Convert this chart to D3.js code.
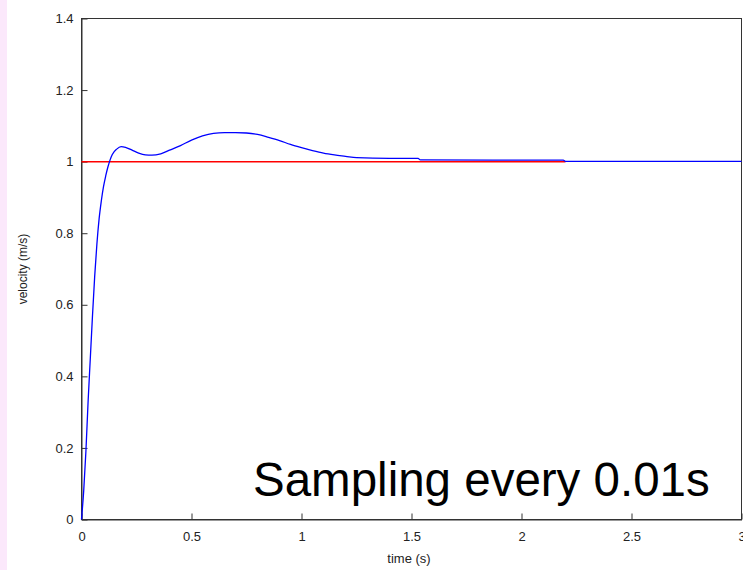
<!DOCTYPE html>
<html>
<head>
<meta charset="utf-8">
<script src="https://cdn.jsdelivr.net/npm/d3@7"></script>
<style>
  body { margin: 0; background: #fff; }
  svg { display: block; font-family: "Liberation Sans", Arial, sans-serif; }
</style>
</head>
<body>
<div id="chart"></div>
<script>
// step response
const times = [0, 0.01, 0.02, 0.03, 0.04, 0.05, 0.06, 0.07, 0.08, 0.09, 0.10, 0.11, 0.12, 0.13, 0.14,
  0.16, 0.18, 0.20, 0.23, 0.26, 0.29, 0.32, 0.36, 0.40, 0.45, 0.50, 0.55, 0.60, 0.65, 0.70, 0.75,
  0.80, 0.85, 0.90, 0.95, 1.00, 1.05, 1.10, 1.15, 1.20, 1.25, 1.40, 1.53, 1.54, 2.19, 2.20, 3.0];
const velocity = [0, 0.08, 0.19, 0.33, 0.45, 0.57, 0.68, 0.77, 0.84, 0.89, 0.93, 0.96, 0.985, 1.005, 1.02,
  1.035, 1.042, 1.04, 1.032, 1.024, 1.019, 1.018, 1.022, 1.032, 1.045, 1.06, 1.072, 1.079, 1.081, 1.081, 1.08,
  1.076, 1.068, 1.059, 1.048, 1.039, 1.031, 1.024, 1.019, 1.015, 1.011, 1.009, 1.009, 1.005, 1.004, 1.001, 1.001];
// reference (set point)
const refTimes = [0, 2.2];
const refValues = [1, 1];

const xTicks = [0, 0.5, 1, 1.5, 2, 2.5, 3];
const xTickLabels = ["0", "0.5", "1", "1.5", "2", "2.5", "3"];
const yTicks = [0, 0.2, 0.4, 0.6, 0.8, 1, 1.2, 1.4];
const yTickLabels = ["0", "0.2", "0.4", "0.6", "0.8", "1", "1.2", "1.4"];

const width = 743;
const height = 570;
const margin = { top: 18.5, right: 1.5, bottom: 50.5, left: 81.5 };

const svg = d3.select("#chart")
  .append("svg")
  .attr("width", width)
  .attr("height", height);

// pink strip on the left edge of the slide
svg.append("rect")
  .attr("x", 0).attr("y", 0)
  .attr("width", 7).attr("height", height)
  .attr("fill", "#fbe8fb");

const x = d3.scaleLinear()
  .domain([0, 3])
  .range([margin.left, width - margin.right]);

const y = d3.scaleLinear()
  .domain([0, 1.4])
  .range([height - margin.bottom, margin.top]);

// plot box
svg.append("rect")
  .attr("x", x(0))
  .attr("y", y(1.4))
  .attr("width", x(3) - x(0))
  .attr("height", y(0) - y(1.4))
  .attr("fill", "#fff")
  .attr("stroke", "#333")
  .attr("stroke-width", 1);

function xAxis(g) {
  g.attr("transform", "translate(0," + y(0) + ")")
    .call(d3.axisBottom(x)
      .tickValues(xTicks)
      .tickFormat((d, i) => xTickLabels[i])
      .tickSizeInner(-6)
      .tickSizeOuter(0)
      .tickPadding(12));
  g.select(".domain").attr("stroke", "#333");
  g.selectAll(".tick line").attr("stroke", "#333");
  g.selectAll("text")
    .attr("font-size", "13px")
    .attr("fill", "#222")
    .attr("font-family", "'Liberation Sans', Arial, sans-serif");
}

function yAxis(g) {
  g.attr("transform", "translate(" + x(0) + ",0)")
    .call(d3.axisLeft(y)
      .tickValues(yTicks)
      .tickFormat((d, i) => yTickLabels[i])
      .tickSizeInner(-6)
      .tickSizeOuter(0)
      .tickPadding(8));
  g.select(".domain").attr("stroke", "#333");
  g.selectAll(".tick line").attr("stroke", "#333");
  g.selectAll("text")
    .attr("font-size", "13px")
    .attr("fill", "#222")
    .attr("font-family", "'Liberation Sans', Arial, sans-serif");
}

svg.append("g").call(xAxis);
svg.append("g").call(yAxis);

// axis labels
svg.append("text")
  .attr("x", 409)
  .attr("y", 563)
  .attr("text-anchor", "middle")
  .attr("font-size", "13px")
  .attr("fill", "#222")
  .text("time (s)");

svg.append("text")
  .attr("transform", "translate(27," + ((y(0) + y(1.4)) / 2) + ") rotate(-90)")
  .attr("text-anchor", "middle")
  .attr("font-size", "12px")
  .attr("fill", "#222")
  .text("velocity (m/s)");

const line = d3.line()
  .x(d => x(d[0]))
  .y(d => y(d[1]));

svg.append("path")
  .datum(refTimes.map((t, i) => [t, refValues[i]]))
  .attr("fill", "none")
  .attr("stroke", "#ff0000")
  .attr("stroke-width", 1.5)
  .attr("d", line);

svg.append("path")
  .datum(times.map((t, i) => [t, velocity[i]]))
  .attr("fill", "none")
  .attr("stroke", "#0000ff")
  .attr("stroke-width", 1.3)
  .attr("d", line.curve(d3.curveMonotoneX));

svg.append("text")
  .attr("x", 253)
  .attr("y", 496)
  .attr("font-size", "47.5px")
  .attr("fill", "#000")
  .text("Sampling every 0.01s");
</script>
</body>
</html>
